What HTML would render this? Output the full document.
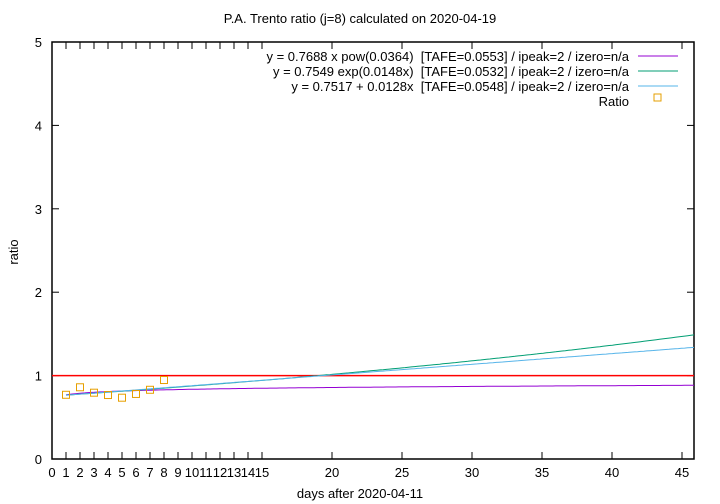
<!DOCTYPE html>
<html><head><meta charset="utf-8"><style>
body{margin:0;background:#fff}
svg{display:block;font-family:"Liberation Sans",sans-serif}
text{white-space:pre}
</style></head><body>
<svg id="chart" width="720" height="504" viewBox="0 0 720 504">
<rect width="720" height="504" fill="#fff"/>
<text x="360" y="23" text-anchor="middle" font-size="13">P.A. Trento ratio (j=8) calculated on 2020-04-19</text>
<text x="18" y="252" text-anchor="middle" font-size="13" transform="rotate(-90 18 252)">ratio</text>
<text x="360" y="498" text-anchor="middle" font-size="13">days after 2020-04-11</text>
<g id="axes"></g>
<g id="marks"></g>
<g id="legend">
<text x="629" y="61" text-anchor="end" font-size="13" xml:space="preserve">y = 0.7688 x pow(0.0364)  [TAFE=0.0553] / ipeak=2 / izero=n/a</text>
<line x1="638" y1="56" x2="678" y2="56" stroke="#9400d3"/>
<text x="629" y="76" text-anchor="end" font-size="13" xml:space="preserve">y = 0.7549 exp(0.0148x)  [TAFE=0.0532] / ipeak=2 / izero=n/a</text>
<line x1="638" y1="71" x2="678" y2="71" stroke="#009e73"/>
<text x="629" y="91" text-anchor="end" font-size="13" xml:space="preserve">y = 0.7517 + 0.0128x  [TAFE=0.0548] / ipeak=2 / izero=n/a</text>
<line x1="638" y1="86" x2="678" y2="86" stroke="#56b4e9"/>
<text x="629" y="106" text-anchor="end" font-size="13">Ratio</text>
<rect x="654" y="94" width="7" height="7" fill="none" stroke="#e69f00"/>
</g>
</svg>
<script>
const days=[1,2,3,4,5,6,7,8];
const ratios=[0.77,0.86,0.795,0.767,0.735,0.78,0.83,0.947];
const xTicksMinor=[0,1,2,3,4,5,6,7,8,9,10,11,12,13,14,15];
const xTicksMajor=[20,25,30,35,40,45];
const yTicks=[0,1,2,3,4,5];
const powA=0.7688, powB=0.0364;
const expA=0.7549, expB=0.0148;
const linA=0.7517, linB=0.0128;
const L=52,R=694,T=42,B=459,XMAX=(R-L)/14.0,YMAX=5;
const X=v=>L+(v/XMAX)*(R-L);
const Y=v=>B-(v/YMAX)*(B-T);
const NS="http://www.w3.org/2000/svg";
function mk(tag,attrs,parent){const e=document.createElementNS(NS,tag);for(const k in attrs)e.setAttribute(k,attrs[k]);parent.appendChild(e);return e;}
const ax=document.getElementById('axes'),mg=document.getElementById('marks');
let f=mk('rect',{x:L,y:T,width:R-L,height:B-T,fill:'none',stroke:'#000','stroke-width':1.5},ax);


xTicksMinor.concat(xTicksMajor).forEach(t=>{
 const x=X(t);
 let l=mk('line',{x1:x,y1:B,x2:x,y2:B-7,stroke:'#000'},ax);
 
 
 let l2=mk('line',{x1:x,y1:T,x2:x,y2:T+7,stroke:'#000'},ax);
 
 
 let tx=mk('text',{x:x,y:B+18,'text-anchor':'middle','font-size':13},ax);
 tx.textContent=t;
 
 
});
yTicks.forEach(t=>{
 const y=Y(t);
 let l=mk('line',{x1:L,y1:y,x2:L+7,y2:y,stroke:'#000'},ax);
 
 
 let l2=mk('line',{x1:R,y1:y,x2:R-7,y2:y,stroke:'#000'},ax);
 
 
 let tx=mk('text',{x:L-10,y:y+5,'text-anchor':'end','font-size':13},ax);
 tx.textContent=t;
 
 
});
let ref=mk('line',{x1:L,y1:Y(1),x2:R,y2:Y(1),stroke:'#ff0000','stroke-width':1.5},mg);


function curve(fn,color,name){
 let pts=[];for(let i=0;i<=200;i++){const x=1+(XMAX-1)*i/200;pts.push(X(x).toFixed(1)+','+Y(fn(x)).toFixed(1));}
 let p=mk('polyline',{points:pts.join(' '),fill:'none',stroke:color,'stroke-width':1},mg);
 
 
}
curve(x=>powA*Math.pow(x,powB),'#9400d3','power-fit-line');
curve(x=>expA*Math.exp(expB*x),'#009e73','exp-fit-line');
curve(x=>linA+linB*x,'#56b4e9','linear-fit-line');
days.forEach((d,i)=>{
 let r=mk('rect',{x:X(d)-3.5,y:Y(ratios[i])-3.5,width:7,height:7,fill:'none',stroke:'#e69f00'},mg);
 
 
});
</script>
</body></html>
